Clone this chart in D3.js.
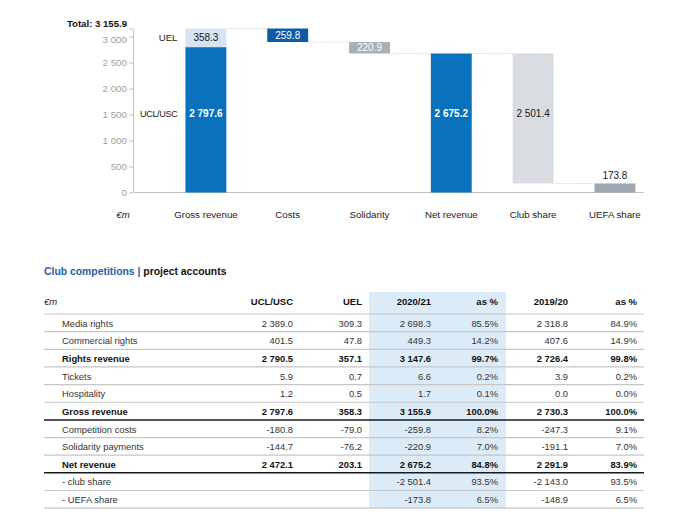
<!DOCTYPE html>
<html><head><meta charset="utf-8">
<script src="https://cdn.jsdelivr.net/npm/d3@7"></script>
<style>
body{margin:0;background:#fff}
text{font-family:"Liberation Sans",Arial,sans-serif}
</style>
</head><body><svg id="c" width="680" height="522"></svg>
<script>
// ---------- DATA ----------
const categories = ["Gross revenue","Costs","Solidarity","Net revenue","Club share","UEFA share"];
const grossSeries = ["UCL/USC","UEL"];
const grossValues = [2797.6, 358.3];
const stepValues = [3155.9, -259.8, -220.9, 2675.2, -2501.4, -173.8];
const stepTypes  = ["total","delta","delta","total","delta","delta"];
const yTicks = [0, 500, 1000, 1500, 2000, 2500, 3000];
const totalTick = 3155.9;

const tableColumns = ["UCL/USC","UEL","2020/21","as %","2019/20","as %"];
const rowLabels = ["Media rights","Commercial rights","Rights revenue","Tickets","Hospitality","Gross revenue","Competition costs","Solidarity payments","Net revenue","- club share","- UEFA share"];
const uclCol  = [2389.0, 401.5, 2790.5, 5.9, 1.2, 2797.6, -180.8, -144.7, 2472.1, null, null];
const uelCol  = [309.3, 47.8, 357.1, 0.7, 0.5, 358.3, -79.0, -76.2, 203.1, null, null];
const y2021   = [2698.3, 449.3, 3147.6, 6.6, 1.7, 3155.9, -259.8, -220.9, 2675.2, -2501.4, -173.8];
const pct2021 = [85.5, 14.2, 99.7, 0.2, 0.1, 100.0, 8.2, 7.0, 84.8, 93.5, 6.5];
const y1920   = [2318.8, 407.6, 2726.4, 3.9, 0.0, 2730.3, -247.3, -191.1, 2291.9, -2143.0, -148.9];
const pct1920 = [84.9, 14.9, 99.8, 0.2, 0.0, 100.0, 9.1, 7.0, 83.9, 93.5, 6.5];
const boldRows = [2, 5, 8];
const thickAfterRows = [5, 8];

// ---------- STYLE ----------
const barColors = ["#0a72bd", "#0d5ba7", "#a8b0b7", "#0a72bd", "#d8dbdf", "#9fa8b0"];
const uelColor = "#d5e3f3";

const loc = d3.formatLocale({decimal:".", thousands:" ", grouping:[3], currency:["",""], minus:"-"});
const fnum = loc.format(",.1f");
const fpct = v => loc.format(".1f")(v) + "%";

const svg = d3.select("#c");

// ---------- CHART ----------
const x = d3.scaleBand().domain(categories).range([165, 655.8]).paddingInner(0.5).paddingOuter(0.25);
const y = d3.scaleLinear().domain([0, totalTick]).range([192.5, 28.5]);
const bw = x.bandwidth();

// running waterfall
let run = 0;
const bars = stepValues.map((v, i) => {
  let from, to;
  if (stepTypes[i] === "total") { from = 0; to = v; run = v; }
  else { from = run; to = run + v; run = to; }
  return {cat: categories[i], from, to, end: run, value: Math.abs(v), i};
});

// axis
const axis = d3.axisLeft(y).tickValues(yTicks.concat([totalTick])).tickSize(4).tickSizeOuter(0).tickPadding(2)
  .tickFormat(d => d === totalTick ? "Total: " + fnum(d) : loc.format(",")(d));
const ga = svg.append("g").attr("transform", "translate(133,0)").call(axis);
ga.select(".domain").attr("stroke", "#c2c2c2");
ga.selectAll(".tick line").attr("stroke", "#c2c2c2");
ga.selectAll(".tick text").attr("fill", "#a0a0a0").attr("font-size", 9.8);
ga.selectAll(".tick").filter(d => d === 3000).select("text").attr("dy", "0.62em");
ga.selectAll(".tick").filter(d => d === totalTick).select("text")
  .attr("fill", "#111").attr("font-weight", "bold").attr("font-size", 9.6).attr("dy", "-0.22em");

// baseline
svg.append("line").attr("x1", 133).attr("x2", 644).attr("y1", y(0)).attr("y2", y(0))
  .attr("stroke", "#c2c2c2").attr("stroke-width", 1);

// connectors
for (let i = 0; i < bars.length - 1; i++) {
  svg.append("line")
    .attr("x1", x(categories[i]) + bw).attr("x2", x(categories[i + 1]))
    .attr("y1", y(bars[i].end)).attr("y2", y(bars[i].end))
    .attr("stroke", "#c9c9c9").attr("stroke-dasharray", "1,1.5").attr("stroke-width", 1);
}

// gross revenue stacked
const stack = [];
let acc = 0;
grossValues.forEach((v, k) => { stack.push({name: grossSeries[k], from: acc, to: acc + v, value: v}); acc += v; });
svg.selectAll(".gross").data(stack).enter().append("rect")
  .attr("x", x(categories[0])).attr("width", bw)
  .attr("y", d => y(d.to)).attr("height", d => y(d.from) - y(d.to))
  .attr("fill", (d, k) => k === 0 ? barColors[0] : uelColor);

// other bars
svg.selectAll(".wf").data(bars.slice(1)).enter().append("rect")
  .attr("x", d => x(d.cat)).attr("width", bw)
  .attr("y", d => y(Math.max(d.from, d.to))).attr("height", d => Math.abs(y(d.from) - y(d.to)))
  .attr("fill", d => barColors[d.i]);

const midLabelY = y(1520);
function label(txt, cx, cy, color, anchor, weight, size, ls) {
  svg.append("text").attr("x", cx).attr("y", cy).attr("dy", "0.35em")
    .attr("text-anchor", anchor || "middle").attr("fill", color)
    .attr("font-size", size || 10).attr("font-weight", weight || "normal")
    .attr("letter-spacing", ls || 0).text(txt);
}
// gross labels
const gx = x(categories[0]);
label(fnum(stack[0].value), gx + bw / 2, midLabelY, "#fff", "middle", "bold");
label(fnum(stack[1].value), gx + bw / 2, (y(stack[1].from) + y(stack[1].to)) / 2, "#1a1a1a");
label(stack[0].name, gx - 8, midLabelY, "#1a1a1a", "end", "normal", 9.2, -0.4);
label(stack[1].name, gx - 8, (y(stack[1].from) + y(stack[1].to)) / 2, "#1a1a1a", "end", "normal", 9.6);
// waterfall labels
bars.slice(1).forEach(d => {
  const cx = x(d.cat) + bw / 2;
  if (d.i === 1 || d.i === 2) label(fnum(d.value), cx, (y(d.from) + y(d.to)) / 2, "#fff");
  else if (d.i === 3) label(fnum(d.value), cx, midLabelY, "#fff", "middle", "bold");
  else if (d.i === 4) label(fnum(d.value), cx, midLabelY, "#1a1a1a");
  else label(fnum(d.value), cx, y(Math.max(d.from, d.to)) - 8, "#1a1a1a");
});

// category labels
svg.selectAll(".cat").data(categories).enter().append("text")
  .attr("x", d => x(d) + bw / 2).attr("y", 217.5).attr("text-anchor", "middle")
  .attr("font-size", 9.7).attr("fill", "#1a1a1a").text(d => d);
svg.append("text").attr("x", 123).attr("y", 217.5).attr("text-anchor", "middle")
  .attr("font-size", 9.7).attr("font-style", "italic").attr("fill", "#1a1a1a").text("€m");

// ---------- TABLE ----------
const tLeft = 44, tRight = 644, lineTop = 314, rowH = 17.65;
const colRight = [293, 362, 431, 498, 568, 637];
const cols = [uclCol, uelCol, y2021, pct2021, y1920, pct1920];
const isPct = [false, false, false, true, false, true];

// shading
svg.append("rect").attr("x", 369).attr("y", 292).attr("width", 137)
  .attr("height", lineTop + rowLabels.length * rowH - 292).attr("fill", "#dcebf8");

// title
const title = svg.append("text").attr("x", tLeft).attr("y", 275).attr("font-size", 10.4).attr("font-weight", "bold");
title.append("tspan").attr("fill", "#1d5fa8").text("Club competitions | ");
title.append("tspan").attr("fill", "#111").text("project accounts");

// header
svg.append("text").attr("x", tLeft).attr("y", 304.5).attr("font-size", 9.5).attr("font-style", "italic")
  .attr("fill", "#222").text("€m");
tableColumns.forEach((c, j) => {
  svg.append("text").attr("x", colRight[j]).attr("y", 304.5).attr("text-anchor", "end")
    .attr("font-size", 9.5).attr("font-weight", "bold").attr("fill", "#111").text(c);
});

// lines
for (let k = 0; k <= rowLabels.length; k++) {
  const thick = thickAfterRows.includes(k - 1);
  svg.append("line").attr("x1", tLeft).attr("x2", tRight)
    .attr("y1", lineTop + k * rowH).attr("y2", lineTop + k * rowH)
    .attr("stroke", thick ? "#1a1a1a" : "#c6c6c6").attr("stroke-width", thick ? 1.5 : 1.2);
}

// rows
rowLabels.forEach((r, i) => {
  const by = lineTop + (i + 0.5) * rowH + 3.8;
  const bold = boldRows.includes(i);
  svg.append("text").attr("x", 62).attr("y", by).attr("font-size", 9.4)
    .attr("font-weight", bold ? "bold" : "normal").attr("fill", bold ? "#111" : "#333").text(r);
  cols.forEach((col, j) => {
    const v = col[i];
    if (v === null || v === undefined) return;
    svg.append("text").attr("x", colRight[j]).attr("y", by).attr("text-anchor", "end")
      .attr("font-size", 9.4).attr("font-weight", bold ? "bold" : "normal")
      .attr("fill", bold ? "#111" : "#333").text(isPct[j] ? fpct(v) : fnum(v));
  });
});
</script>
</body></html>
